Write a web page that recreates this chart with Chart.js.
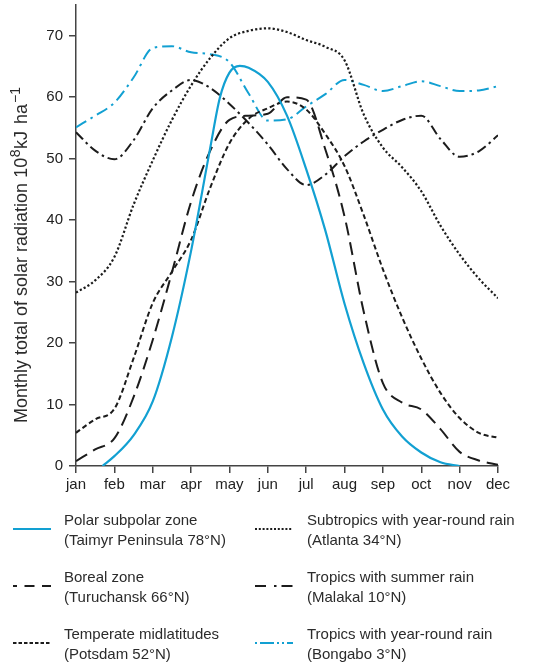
<!DOCTYPE html>
<html>
<head>
<meta charset="utf-8">
<title>Monthly total of solar radiation</title>
<script src="https://cdn.jsdelivr.net/npm/chart.js@4/dist/chart.umd.min.js"></script>
<style>
    html, body { margin: 0; padding: 0; background: #fff; }
    body {
        width: 554px; height: 663px; position: relative; overflow: hidden;
        font-family: "Liberation Sans", Arial, sans-serif; color: #2b2b2b;
    }
    #chart-box { position: absolute; left: 0; top: 0; width: 554px; height: 500px; }
    #legend { position: absolute; left: 0; top: 0; width: 554px; height: 663px; }
    .item { position: absolute; height: 40px; font-size: 15px; line-height: 20px; }
    .item svg { position: absolute; left: 0; top: 16px; }
    .item span { position: absolute; left: 51px; top: 0; white-space: nowrap; }
</style>
</head>
<body>
<div id="chart-box"><canvas id="radiationChart"></canvas></div>
<div id="legend"></div>

<script>
// Values (10^8 kJ/ha per month), x = month index (0 = jan)
const months = ['jan', 'feb', 'mar', 'apr', 'may', 'jun', 'jul', 'aug', 'sep', 'oct', 'nov', 'dec'];
const yTicks = [0, 10, 20, 30, 40, 50, 60, 70];

// half-month sample positions shared by most curves
const halfMonths = [0, 0.5, 1, 1.5, 2, 2.5, 3, 3.5, 4, 4.5, 5, 5.5, 6, 6.5, 7, 7.5, 8, 8.5, 9, 9.5, 10, 10.5, 11];

// polar curve only exists between early feb and nov
const polarX = [0.69, 1, 1.5, 2, 2.5, 3, 3.5, 3.75, 4, 4.27, 4.5, 5, 5.5, 6, 6.5, 7, 7.5, 8, 8.5, 9, 9.5, 10];
const polar = [0, 1.6, 5, 10.5, 21, 35, 51.8, 59.9, 64, 65.1, 64.8, 62.5, 57, 48.3, 38.3, 26.4, 16.7, 9.2, 4.8, 2.2, 0.6, 0];

const boreal = [0.8, 2.7, 4.5, 11.2, 20.5, 31.5, 43, 51.3, 56.3, 57, 57.3, 60, 59.6, 51.5, 40.6, 25.1, 13.5, 10.3, 9.2, 6, 2.3, 0.9, 0.2];
const temperate = [5.4, 7.6, 9.3, 17.5, 26.5, 31.6, 36.8, 45.3, 52.5, 56.5, 58.2, 59.3, 58, 54, 48.8, 40.8, 32, 24.2, 17.5, 11.9, 7.8, 5.4, 4.6];
const subtropics = [28.2, 30.2, 34, 42.5, 49.7, 56.3, 61.9, 66.4, 69.6, 70.8, 71.2, 70.6, 69.3, 68.2, 66, 57.2, 51.8, 48.6, 44.7, 39.1, 34.4, 30.5, 27.3];
const malakal = [54.3, 51.3, 49.9, 53, 58.2, 61.1, 62.8, 61.5, 58.9, 55.8, 52.3, 48.3, 45.7, 47.4, 50.4, 52.8, 54.7, 56.3, 57, 53.2, 50.3, 51.2, 53.8];
const bongabo = [55.1, 57, 59.1, 63.2, 68, 68.3, 67.3, 67, 65.7, 60.6, 56.2, 56.4, 58.5, 60.5, 62.8, 62, 61, 61.8, 62.6, 61.8, 61, 61.1, 61.8];

const BLUE = '#12a0d2';
const BLACK = '#1c1c1c';
const AXIS = '#444';
const FONT = '"Liberation Sans", Arial, sans-serif';

// series: name, place, data, style (chart dash + legend dash)
const series = [
    { name: 'Polar subpolar zone', place: '(Taimyr Peninsula 78°N)', x: polarX, y: polar,
      color: BLUE, width: 2.2, dash: [], legendDash: '' },
    { name: 'Boreal zone', place: '(Turuchansk 66°N)', x: halfMonths, y: boreal,
      color: BLACK, width: 2, dash: [13, 7], legendDash: '10 7.5', legendOffset: 6 },
    { name: 'Temperate midlatitudes', place: '(Potsdam 52°N)', x: halfMonths, y: temperate,
      color: BLACK, width: 2, dash: [5, 3], legendDash: '3.5 2' },
    { name: 'Subtropics with year-round rain', place: '(Atlanta 34°N)', x: halfMonths, y: subtropics,
      color: BLACK, width: 2.2, dash: [2.2, 2.2], legendDash: '2 1.8' },
    { name: 'Tropics with summer rain', place: '(Malakal 10°N)', x: halfMonths, y: malakal,
      color: BLACK, width: 2, dash: [10, 4, 2.5, 4], legendDash: '11 8 2.5 5' },
    { name: 'Tropics with year-round rain', place: '(Bongabo 3°N)', x: halfMonths, y: bongabo,
      color: BLUE, width: 2, dash: [12, 5, 2.5, 5], legendDash: '2 3 14 3 2 3' }
];

// y axis title with real superscripts (gap = extra space before the part)
const yTitleParts = [
    { text: 'Monthly total of solar radiation 10' },
    { text: '8', sup: true, gap: 0.5 },
    { text: 'kJ', gap: 0.5 },
    { text: 'ha', gap: 7 },
    { text: '\u22121', sup: true, gap: 1 }
];

const yTitlePlugin = {
    id: 'yTitle',
    afterDraw(chart) {
        const ctx = chart.ctx;
        ctx.save();
        ctx.translate(27, 423);
        ctx.rotate(-Math.PI / 2);
        ctx.fillStyle = '#2b2b2b';
        ctx.textBaseline = 'alphabetic';
        let pos = 0;
        yTitleParts.forEach(function(p) {
            pos += p.gap || 0;
            ctx.font = (p.sup ? '14px ' : '18px ') + FONT;
            ctx.fillText(p.text, pos, p.sup ? -7 : 0);
            pos += ctx.measureText(p.text).width;
        });
        ctx.restore();
    }
};

document.addEventListener('DOMContentLoaded', function() {
    const ctx = document.getElementById('radiationChart');

    new Chart(ctx, {
        type: 'line',
        data: {
            datasets: series.map(function(s) {
                return {
                    label: s.name,
                    data: s.x.map(function(x, i) { return { x: x, y: s.y[i] }; }),
                    borderColor: s.color,
                    borderWidth: s.width,
                    borderDash: s.dash,
                    borderCapStyle: 'butt',
                    pointRadius: 0,
                    fill: false,
                    cubicInterpolationMode: 'monotone'
                };
            })
        },
        options: {
            responsive: true,
            maintainAspectRatio: false,
            animation: false,
            layout: { padding: { top: 5, right: 56, left: 0, bottom: 0 } },
            plugins: {
                legend: { display: false },
                tooltip: { enabled: false }
            },
            scales: {
                x: {
                    type: 'linear',
                    min: 0,
                    max: 11,
                    afterBuildTicks: function(scale) {
                        scale.ticks = months.map(function(m, i) { return { value: i }; });
                    },
                    afterFit: function(scale) { scale.height = 34; },
                    ticks: {
                        callback: function(v) { return months[v]; },
                        font: { size: 15, family: FONT },
                        color: '#222',
                        padding: 3,
                        maxRotation: 0,
                        autoSkip: false
                    },
                    grid: { drawOnChartArea: false, tickLength: 7, color: AXIS, lineWidth: 1.5 },
                    border: { color: AXIS, width: 1.5 }
                },
                y: {
                    min: 0,
                    max: 75,
                    afterBuildTicks: function(scale) {
                        scale.ticks = yTicks.map(function(v) { return { value: v }; });
                    },
                    afterFit: function(scale) {
                        scale.width = 76;
                        // no extra room for half tick labels: axis runs to the top
                        scale.paddingTop = 0;
                        scale.paddingBottom = 0;
                    },
                    ticks: {
                        font: { size: 15, family: FONT },
                        color: '#222',
                        padding: 6
                    },
                    grid: { drawOnChartArea: false, tickLength: 7, color: AXIS, lineWidth: 1.5 },
                    border: { color: AXIS, width: 1.5 }
                }
            }
        },
        plugins: [yTitlePlugin]
    });

    // HTML legend: two columns, three rows
    const legend = document.getElementById('legend');
    const colLeft = [13, 255];
    const rowTop = [510, 567, 624];
    series.forEach(function(s, i) {
        const col = i < 3 ? 0 : 1;
        const row = i % 3;
        const item = document.createElement('div');
        item.className = 'item';
        item.style.left = colLeft[col] + 'px';
        item.style.top = rowTop[row] + 'px';
        const dashAttr = s.legendDash ? ' stroke-dasharray="' + s.legendDash + '"' : '';
        const offAttr = s.legendOffset ? ' stroke-dashoffset="' + s.legendOffset + '"' : '';
        item.innerHTML =
            '<svg width="38" height="6"><line x1="0" y1="3" x2="38" y2="3" stroke="' + s.color +
            '" stroke-width="2"' + dashAttr + offAttr + '/></svg>' +
            '<span style="' + (col ? 'left:52px' : '') + '">' + s.name + '<br>' + s.place + '</span>';
        legend.appendChild(item);
    });
});
</script>
</body>
</html>
